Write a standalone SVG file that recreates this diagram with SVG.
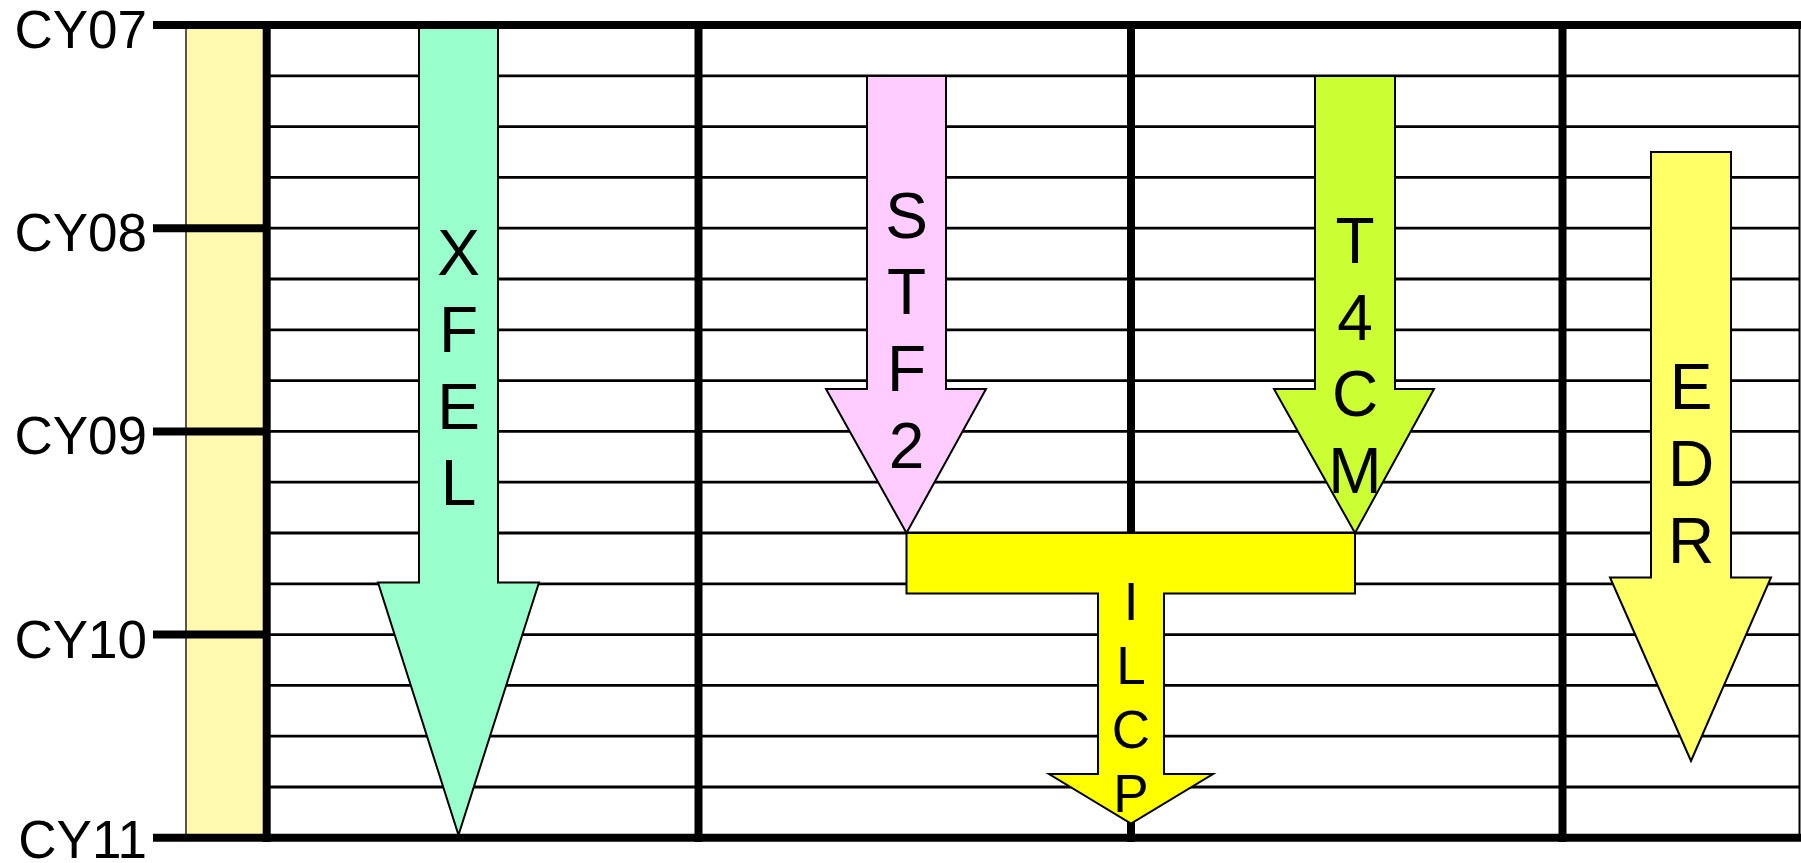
<svg xmlns="http://www.w3.org/2000/svg" width="1801" height="863" viewBox="0 0 1801 863">
  <style>
    .thin { stroke: #000; stroke-width: 2.8; fill: none; }
    .thick { stroke: #000; stroke-width: 8; fill: none; }
    .edge { stroke: #000; stroke-width: 2; fill: none; }
    .arrow { stroke: #000; stroke-width: 2; stroke-linejoin: miter; }
    .yr { font-family: "Liberation Sans", Arial, sans-serif; font-size: 53px; fill: #000; text-anchor: end; }
    .lbl { font-family: "Liberation Sans", Arial, sans-serif; font-size: 64px; fill: #000; text-anchor: middle; }
    .lbl-s { font-family: "Liberation Sans", Arial, sans-serif; font-size: 53px; fill: #000; text-anchor: middle; }
  </style>
  <rect x="0" y="0" width="1801" height="863" fill="#fff"/>

  <!-- year band on the left -->
  <g id="year-band">
    <rect x="186" y="25" width="80" height="813" fill="#FFFAB0" stroke="#222" stroke-width="1.5"/>
  </g>

  <!-- quarter lines and column dividers -->
  <g id="grid">
    <g class="thin">
      <line x1="266" y1="75.8" x2="1800" y2="75.8"/>
      <line x1="266" y1="126.6" x2="1800" y2="126.6"/>
      <line x1="266" y1="177.4" x2="1800" y2="177.4"/>
      <line x1="266" y1="228.2" x2="1800" y2="228.2"/>
      <line x1="266" y1="279" x2="1800" y2="279"/>
      <line x1="266" y1="329.8" x2="1800" y2="329.8"/>
      <line x1="266" y1="380.6" x2="1800" y2="380.6"/>
      <line x1="266" y1="431.4" x2="1800" y2="431.4"/>
      <line x1="266" y1="482.2" x2="1800" y2="482.2"/>
      <line x1="266" y1="533" x2="1800" y2="533"/>
      <line x1="266" y1="583.8" x2="1800" y2="583.8"/>
      <line x1="266" y1="634.6" x2="1800" y2="634.6"/>
      <line x1="266" y1="685.4" x2="1800" y2="685.4"/>
      <line x1="266" y1="736.2" x2="1800" y2="736.2"/>
      <line x1="266" y1="787" x2="1800" y2="787"/>
    </g>
    <line class="edge" x1="1799.5" y1="25" x2="1799.5" y2="838"/>
    <g class="thick">
      <line x1="266.7" y1="21" x2="266.7" y2="842"/>
      <line x1="698.5" y1="21" x2="698.5" y2="842"/>
      <line x1="1131" y1="21" x2="1131" y2="842"/>
      <line x1="1562.5" y1="21" x2="1562.5" y2="842"/>
    </g>
  </g>

  <!-- programme arrows -->
  <g id="xfel">
    <polygon class="arrow" fill="#99FFCC" points="419,25 498,25 498,582.5 539,582.5 458.5,835 378,582.5 419,582.5"/>
    <text class="lbl" x="458.5" y="275">X</text>
    <text class="lbl" x="458.5" y="351.8">F</text>
    <text class="lbl" x="458.5" y="428.6">E</text>
    <text class="lbl" x="458.5" y="505.4">L</text>
  </g>

  <g id="stf2">
    <polygon class="arrow" fill="#FFCCFF" points="867,76 946,76 946,389 986,389 906.5,533 826,389 867,389"/>
    <text class="lbl" x="906.5" y="237.5">S</text>
    <text class="lbl" x="906.5" y="314.3">T</text>
    <text class="lbl" x="906.5" y="391.1">F</text>
    <text class="lbl" x="906.5" y="467.9">2</text>
  </g>

  <g id="t4cm">
    <polygon class="arrow" fill="#CCFF33" points="1315,76 1395,76 1395,389 1434,389 1355,533 1274,389 1315,389"/>
    <text class="lbl" x="1355" y="262.7">T</text>
    <text class="lbl" x="1355" y="339.5">4</text>
    <text class="lbl" x="1355" y="416.3">C</text>
    <text class="lbl" x="1355" y="493.1">M</text>
  </g>

  <g id="ilcp">
    <polygon class="arrow" fill="#FFFF00" points="906.5,533 1355,533 1355,593.5 1164,593.5 1164,774 1213,774 1131,823.5 1049,774 1098,774 1098,593.5 906.5,593.5"/>
    <text class="lbl-s" x="1131" y="620">I</text>
    <text class="lbl-s" x="1131" y="684">L</text>
    <text class="lbl-s" x="1131" y="748">C</text>
    <text class="lbl-s" x="1131" y="812">P</text>
  </g>

  <g id="edr">
    <polygon class="arrow" fill="#FFFF66" points="1651,152 1731,152 1731,577.5 1771,577.5 1691,761 1610,577.5 1651,577.5"/>
    <text class="lbl" x="1691" y="409">E</text>
    <text class="lbl" x="1691" y="486">D</text>
    <text class="lbl" x="1691" y="563">R</text>
  </g>

  <!-- year boundaries and ticks -->
  <g id="axis">
    <g class="thick">
      <line x1="153" y1="25" x2="1801" y2="25"/>
      <line x1="153" y1="837.8" x2="1801" y2="837.8"/>
      <line x1="153" y1="228.2" x2="266" y2="228.2"/>
      <line x1="153" y1="431.4" x2="266" y2="431.4"/>
      <line x1="153" y1="634.6" x2="266" y2="634.6"/>
    </g>
    <text class="yr" x="147" y="48">CY07</text>
    <text class="yr" x="147" y="251.2">CY08</text>
    <text class="yr" x="147" y="454.4">CY09</text>
    <text class="yr" x="147" y="657.6">CY10</text>
    <text class="yr" x="147" y="858">CY11</text>
  </g>
</svg>
